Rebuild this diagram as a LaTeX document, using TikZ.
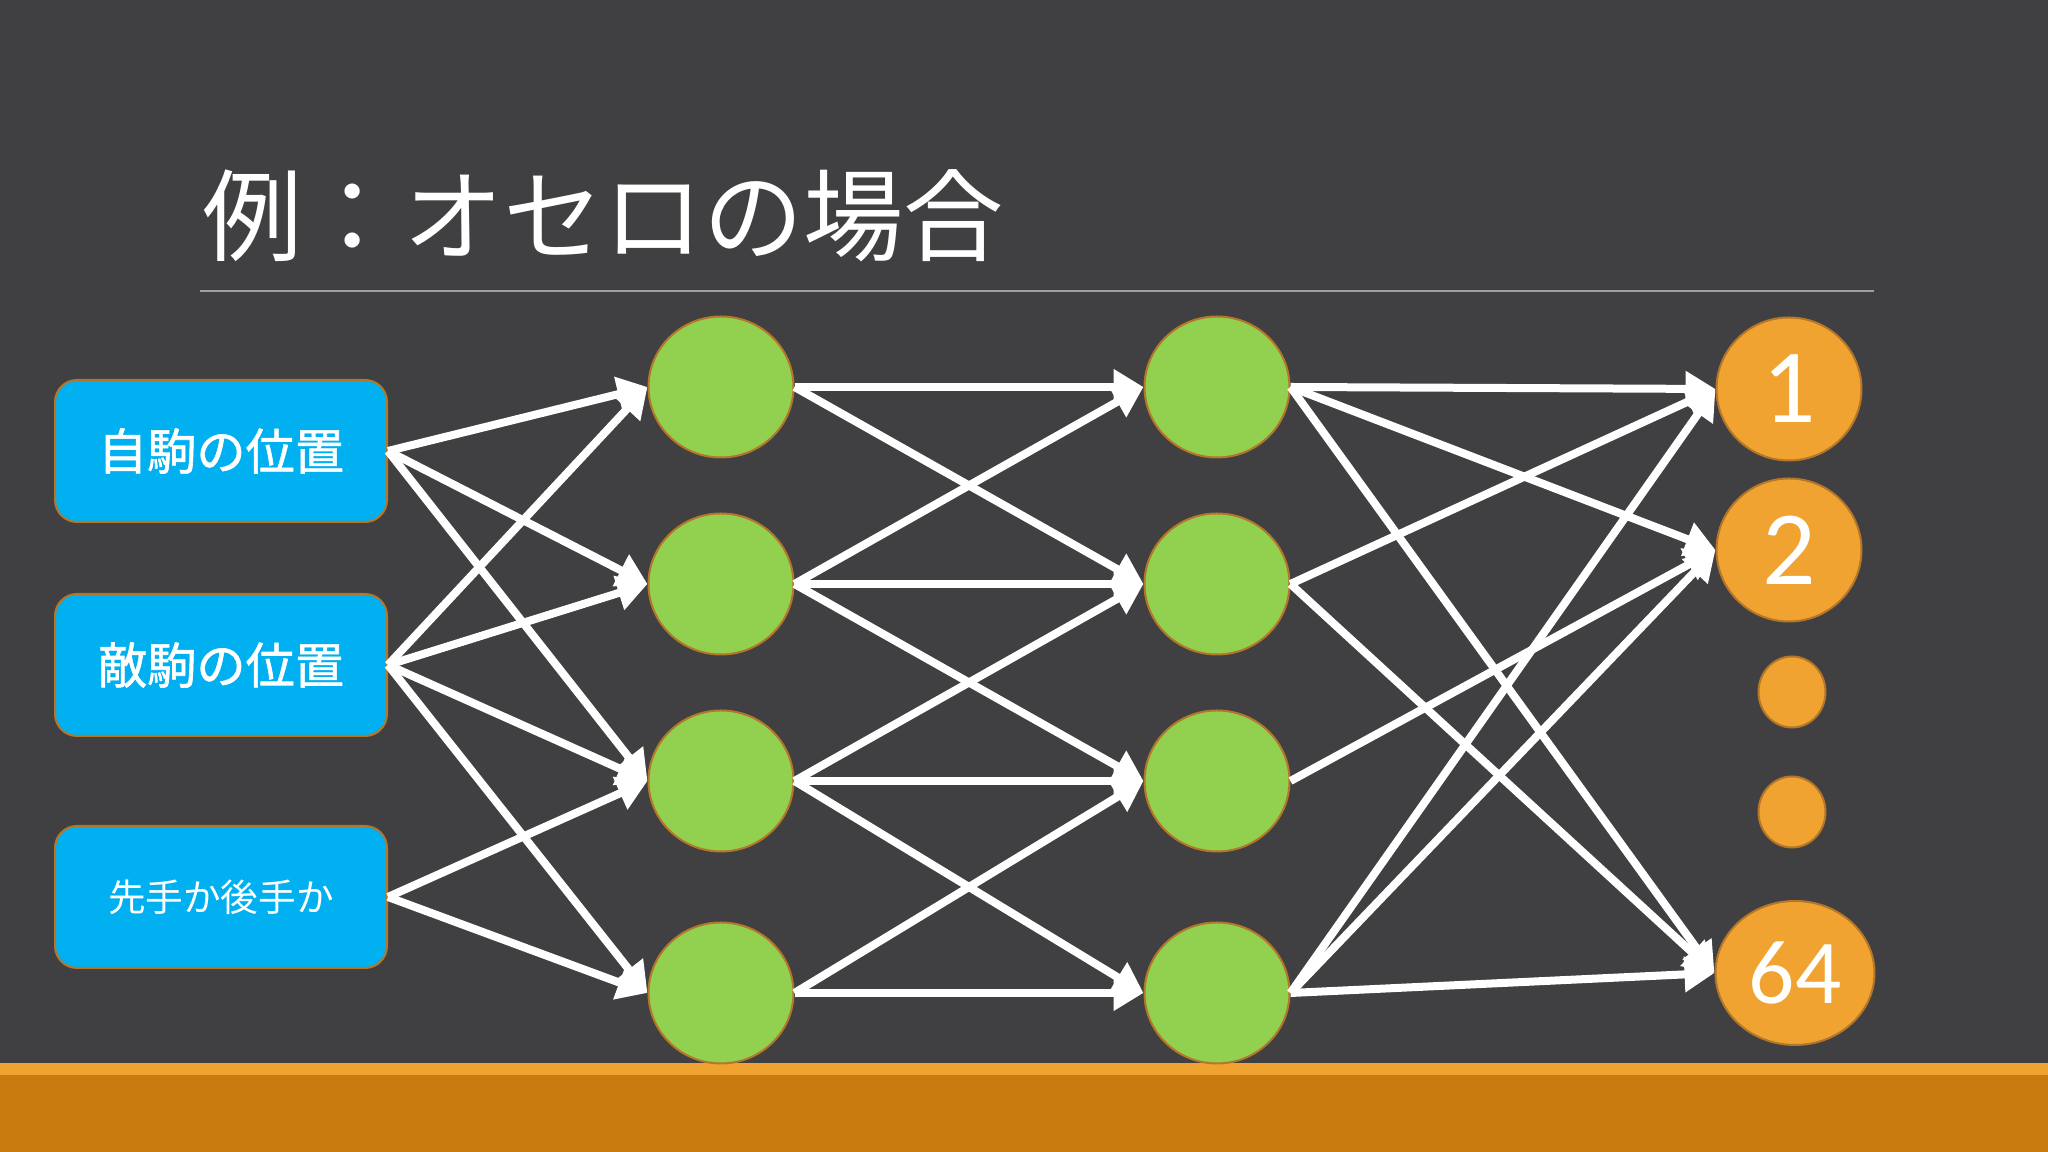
\documentclass[tikz,border=0pt]{standalone}
\usepackage{fontspec}
\newfontfamily\jpfont{Noto Sans CJK JP}
\newfontfamily\jpboxfont[FakeBold=1.2]{Noto Sans CJK JP}
\newfontfamily\numfont{Carlito}
\usetikzlibrary{shapes.geometric,arrows.meta}
\definecolor{slate}{RGB}{64,64,66}
\definecolor{incyan}{RGB}{0,176,240}
\definecolor{hidgreen}{RGB}{146,208,80}
\definecolor{outorange}{RGB}{240,163,48}
\definecolor{bardark}{RGB}{200,123,14}
\definecolor{edgebrown}{RGB}{180,118,40}
\tikzset{
	inbox/.style={draw=edgebrown, line width=0.02cm, fill=incyan, rounded corners=0.22cm,
		minimum width=3.32cm, minimum height=1.42cm, inner sep=0, text=white,
		font=\jpboxfont\fontsize{14}{16}\selectfont},
	hid/.style={ellipse, draw=edgebrown, line width=0.02cm, fill=hidgreen,
		minimum width=1.45cm, minimum height=1.41cm, inner sep=0},
	outnode/.style={ellipse, draw=edgebrown, line width=0.02cm, fill=outorange,
		minimum width=1.45cm, minimum height=1.43cm, inner sep=0, text=white,
		font=\numfont\fontsize{30}{32}\selectfont},
	wire/.style={white, line width=0.08cm, -{Triangle[length=0.3cm,width=0.34cm]}}
}
\begin{document}
\begin{tikzpicture}
			\fill[slate] (0,0) rectangle (20.48,11.52);
			\fill[bardark] (0,0) rectangle (20.48,0.77);
			\fill[outorange] (0,0.77) rectangle (20.48,0.89);
			
			\node[anchor=west, inner sep=0, text=white, font=\jpfont\fontsize{28.5}{30}\selectfont] (title) at (2.02,9.36) {例：オセロの場合};
			\draw[gray!75, line width=0.015cm] (2.0,8.61) -- (18.74,8.61);
			
			\node[inbox] (own) at (2.21,7.01) {自駒の位置};
			\node[inbox] (opp) at (2.21,4.87) {敵駒の位置};
			\node[inbox, font=\jpfont\fontsize{10.7}{12}\selectfont] (turn) at (2.21,2.55) {先手か後手か};
			
			\node[hid] (h1) at (7.21,7.65) {};
			\node[hid] (h2) at (7.21,5.68) {};
			\node[hid] (h3) at (7.21,3.71) {};
			\node[hid] (h4) at (7.21,1.59) {};
			
			\node[hid] (g1) at (12.17,7.65) {};
			\node[hid] (g2) at (12.17,5.68) {};
			\node[hid] (g3) at (12.17,3.71) {};
			\node[hid] (g4) at (12.17,1.59) {};
			
			\node[outnode] (o1) at (17.89,7.63) {1};
			\node[outnode] (o2) at (17.89,6.02) {2};
			\node[outnode, minimum width=0.67cm, minimum height=0.71cm] (dot1) at (17.92,4.60) {};
			\node[outnode, minimum width=0.67cm, minimum height=0.71cm] (dot2) at (17.92,3.40) {};
			\node[outnode, minimum width=1.59cm, minimum height=1.44cm, font=\numfont\fontsize{26}{28}\selectfont] (o64) at (17.95,1.79) {64};
			
			\draw[wire] (own.east) -- (h1.west); \draw[wire] (own.east) -- (h2.west); \draw[wire] (own.east) -- (h3.west);
			\draw[wire] (opp.east) -- (h1.west); \draw[wire] (opp.east) -- (h2.west);
			\draw[wire] (opp.east) -- (h3.west); \draw[wire] (opp.east) -- (h4.west);
			\draw[wire] (turn.east) -- (h3.west); \draw[wire] (turn.east) -- (h4.west);
			
			\draw[wire] (h1.east) -- (g1.west); \draw[wire] (h1.east) -- (g2.west);
			\draw[wire] (h2.east) -- (g1.west); \draw[wire] (h2.east) -- (g2.west); \draw[wire] (h2.east) -- (g3.west);
			\draw[wire] (h3.east) -- (g2.west); \draw[wire] (h3.east) -- (g3.west); \draw[wire] (h3.east) -- (g4.west);
			\draw[wire] (h4.east) -- (g3.west); \draw[wire] (h4.east) -- (g4.west);
			
			\draw[wire] (g1.east) -- (o1.west); \draw[wire] (g1.east) -- (o2.west); \draw[wire] (g1.east) -- (o64.west);
			\draw[wire] (g2.east) -- (o1.west); \draw[wire] (g2.east) -- (o64.west);
			\draw[wire] (g3.east) -- (o2.west);
			\draw[wire] (g4.east) -- (o1.west); \draw[wire] (g4.east) -- (o2.west); \draw[wire] (g4.east) -- (o64.west);
\end{tikzpicture}
\end{document}
